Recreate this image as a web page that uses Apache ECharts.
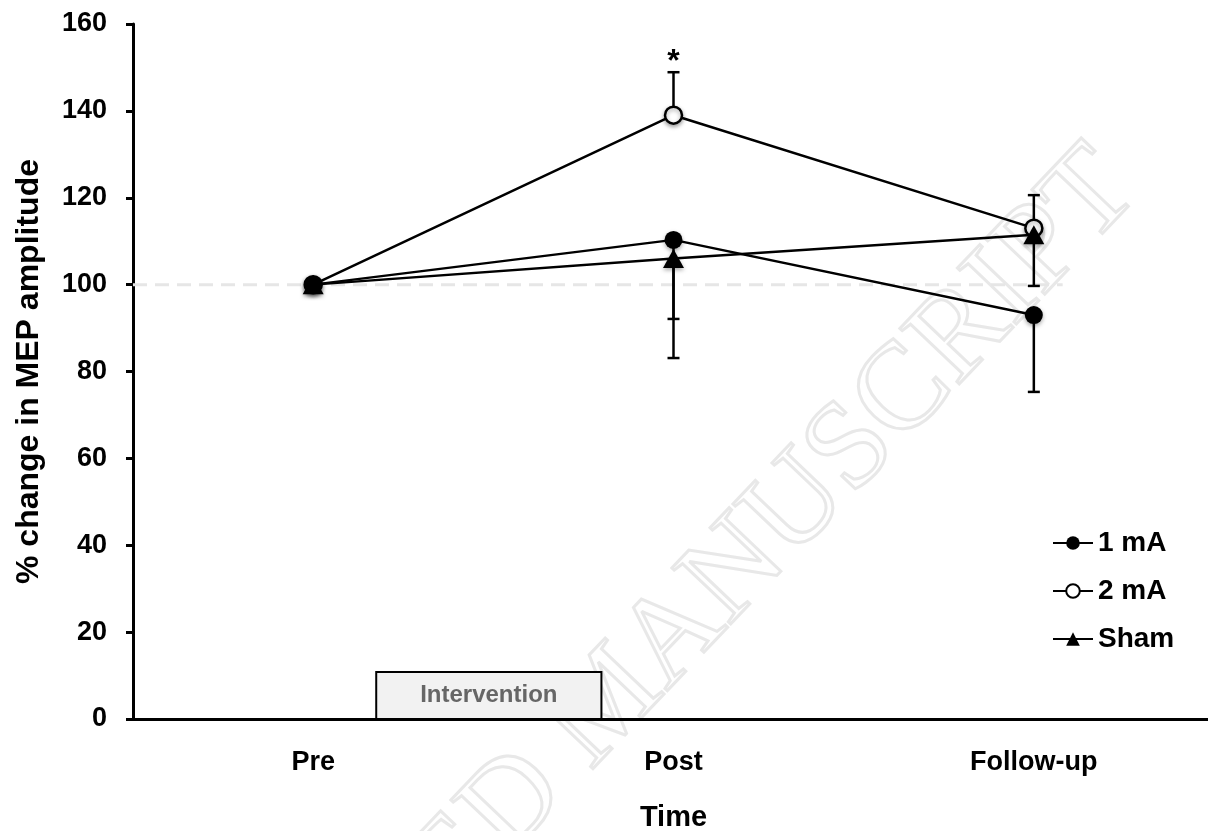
<!DOCTYPE html>
<html>
<head>
<meta charset="utf-8">
<script src="https://cdn.jsdelivr.net/npm/echarts@6/dist/echarts.min.js"></script>
<style>
  html, body { margin: 0; padding: 0; background: #fff; }
  #main { width: 1208px; height: 831px; }
</style>
</head>
<body>
<div id="main"></div>
<script>
// 数据
const categories = ['Pre', 'Post', 'Follow-up'];
const mA1 = [100, 110.3, 93.0];
const mA2 = [100, 139.0, 113.0];
const sham = [100, 106.0, 111.5];
// error bar end points (one-sided, as drawn)
const mA1Err = [null, 92.1, 75.3];
const mA2Err = [null, 148.9, 120.6];
const shamErr = [null, 83.1, 99.7];
// significance marks: [category index, value at bar end]
const sigMarks = [[1, 148.9]];
// intervention period on the time axis: [start, end, height]
const intervention = [[0.175, 0.8, 10.8]];
const baseline = 100;
const baselineExtent = [-0.5, 2.08];

const FONT = 'Liberation Sans, Arial, sans-serif';
const myChart = echarts.init(document.getElementById('main'));

function errData(means, ends) {
  const out = [];
  means.forEach((m, i) => {
    if (ends[i] != null) out.push([i, m, ends[i]]);
  });
  return out;
}

function renderErr(params, api) {
  const p0 = api.coord([api.value(0), api.value(1)]);
  const p1 = api.coord([api.value(0), api.value(2)]);
  const w = 6;
  const st = { stroke: '#000', lineWidth: 2.5 };
  return {
    type: 'group',
    children: [
      { type: 'line', shape: { x1: p0[0], y1: p0[1], x2: p1[0], y2: p1[1] }, style: st },
      { type: 'line', shape: { x1: p1[0] - w, y1: p1[1], x2: p1[0] + w, y2: p1[1] }, style: st }
    ]
  };
}

const errSeries = (data) => ({
  type: 'custom',
  renderItem: renderErr,
  data: data,
  z: 1,
  silent: true
});

const markShadow = {
  shadowBlur: 4,
  shadowColor: 'rgba(0,0,0,0.35)',
  shadowOffsetY: 2
};

myChart.setOption({
  animation: false,
  backgroundColor: '#fff',
  graphic: [{
    type: 'text',
    x: 1118,
    y: 170,
    rotation: 46.4 * Math.PI / 180,
    z: -10,
    silent: true,
    style: {
      text: 'ACCEPTED MANUSCRIPT',
      font: '124px "Liberation Serif", serif',
      align: 'right',
      verticalAlign: 'middle',
      fill: 'rgba(0,0,0,0)',
      stroke: '#e8e8e8',
      lineWidth: 3
    }
  }],
  grid: { left: 133, right: -6, top: 24, bottom: 112, outerBoundsMode: 'none', containLabel: false },
  legend: {
    orient: 'vertical',
    left: 1052,
    top: 529,
    padding: 0,
    itemWidth: 40,
    itemHeight: 17,
    itemGap: 20,
    data: ['1 mA', '2 mA', 'Sham'],
    textStyle: { fontFamily: FONT, fontWeight: 'bold', fontSize: 28, color: '#000', padding: [0, 0, 0, 0] }
  },
  xAxis: [{
    type: 'category',
    data: categories,
    name: 'Time',
    nameLocation: 'middle',
    nameGap: 84,
    nameTextStyle: { fontFamily: FONT, fontWeight: 'bold', fontSize: 29, color: '#000' },
    axisLine: { lineStyle: { color: '#000', width: 3 } },
    axisTick: { alignWithLabel: true, length: 6, lineStyle: { color: '#000', width: 3 } },
    axisLabel: { margin: 30, fontFamily: FONT, fontWeight: 'bold', fontSize: 27, color: '#000' }
  }, {
    type: 'value',
    min: -0.5,
    max: 2.5,
    show: false
  }],
  yAxis: {
    type: 'value',
    min: 0,
    max: 160,
    interval: 20,
    name: '% change in MEP amplitude',
    nameLocation: 'middle',
    nameGap: 88,
    nameTextStyle: { fontFamily: FONT, fontWeight: 'bold', fontSize: 32, color: '#000' },
    axisLine: { show: true, onZero: false, lineStyle: { color: '#000', width: 3 } },
    axisTick: { show: true, length: 7, lineStyle: { color: '#000', width: 3 } },
    axisLabel: { margin: 26, fontFamily: FONT, fontWeight: 'bold', fontSize: 27, color: '#000' },
    splitLine: { show: false }
  },
  series: [
    {
      name: 'baseline',
      type: 'line',
      xAxisIndex: 1,
      data: [[baselineExtent[0], baseline], [baselineExtent[1], baseline]],
      symbol: 'none',
      silent: true,
      z: 0,
      lineStyle: { color: '#e6e6e6', width: 3, type: [14, 8] }
    },
    {
      name: 'intervention',
      type: 'custom',
      xAxisIndex: 1,
      data: intervention,
      silent: true,
      z: 1,
      renderItem: function (params, api) {
        const a = api.coord([api.value(0), 0]);
        const b = api.coord([api.value(1), api.value(2)]);
        return {
          type: 'group',
          children: [{
            type: 'rect',
            shape: { x: a[0], y: b[1], width: b[0] - a[0], height: a[1] - b[1] },
            style: { fill: '#f2f2f2', stroke: '#000', lineWidth: 2 }
          }, {
            type: 'text',
            x: (a[0] + b[0]) / 2,
            y: (a[1] + b[1]) / 2,
            style: {
              text: 'Intervention',
              font: 'bold 24px ' + FONT,
              fill: '#666',
              align: 'center',
              verticalAlign: 'middle'
            }
          }]
        };
      }
    },
    errSeries(errData(mA1, mA1Err)),
    errSeries(errData(mA2, mA2Err)),
    errSeries(errData(sham, shamErr)),
    {
      name: 'sig',
      type: 'custom',
      data: sigMarks,
      silent: true,
      renderItem: function (params, api) {
        const p = api.coord([api.value(0), api.value(1)]);
        return {
          type: 'text',
          x: p[0],
          y: p[1] - 10,
          style: { text: '*', font: 'bold 32px ' + FONT, fill: '#000', align: 'center', verticalAlign: 'middle' }
        };
      }
    },
    {
      name: '1 mA',
      type: 'line',
      data: mA1,
      symbol: 'circle',
      symbolSize: 18,
      z: 4,
      lineStyle: { color: '#000', width: 2.5 },
      itemStyle: Object.assign({ color: '#000' }, markShadow)
    },
    {
      name: '2 mA',
      type: 'line',
      data: mA2,
      symbol: 'circle',
      symbolSize: 17,
      z: 3,
      lineStyle: { color: '#000', width: 2.5 },
      itemStyle: Object.assign({ color: '#fff', borderColor: '#000', borderWidth: 2.5 }, markShadow)
    },
    {
      name: 'Sham',
      type: 'line',
      data: sham,
      symbol: 'triangle',
      symbolSize: [21, 19],
      z: 5,
      lineStyle: { color: '#000', width: 2.5 },
      itemStyle: Object.assign({ color: '#000' }, markShadow)
    }
  ]
});
</script>
</body>
</html>
